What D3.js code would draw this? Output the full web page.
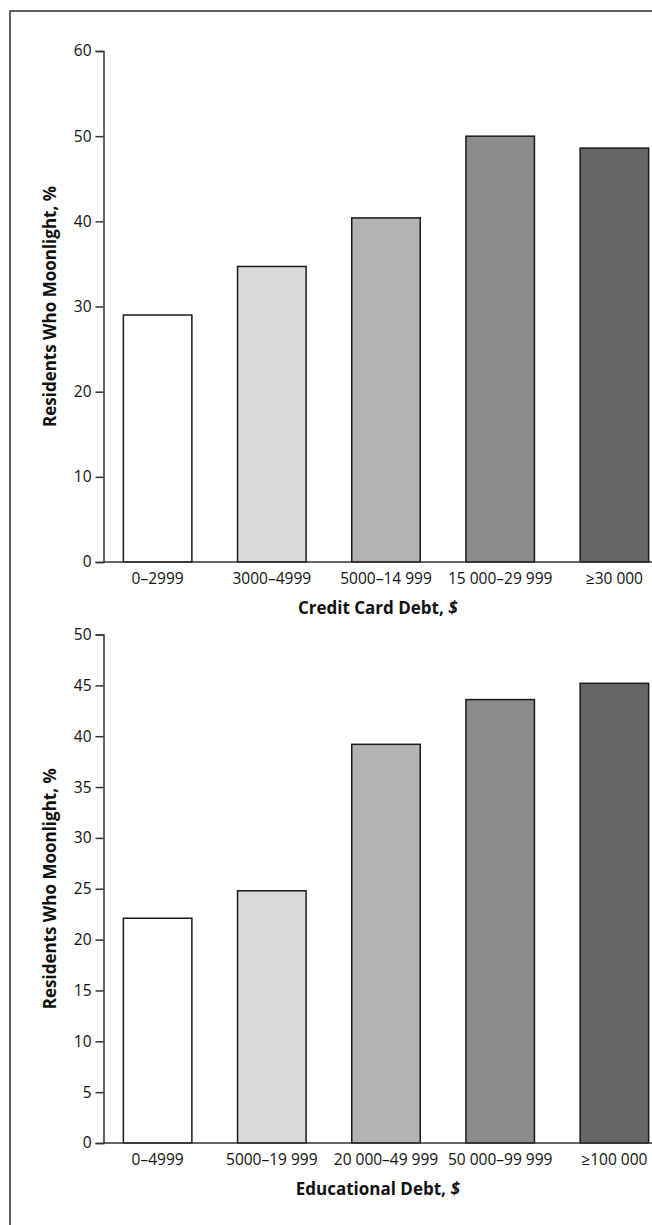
<!DOCTYPE html>
<html>
<head>
<meta charset="utf-8">
<script src="https://cdn.jsdelivr.net/npm/d3@7"></script>
<style>
  html, body { margin: 0; padding: 0; background: #fff; }
  svg { display: block; }
  text { font-family: "Open Sans", "DejaVu Sans", sans-serif; fill: #111; }
</style>
</head>
<body>
<script>
// ---- data ----
const creditCategories = ["0\u20132999", "3000\u20134999", "5000\u201314 999", "15 000\u201329 999", "\u226530 000"];
const creditValues = [29.0, 34.7, 40.4, 50.0, 48.6];
const creditTicks = [0, 10, 20, 30, 40, 50, 60];

const eduCategories = ["0\u20134999", "5000\u201319 999", "20 000\u201349 999", "50 000\u201399 999", "\u2265100 000"];
const eduValues = [22.1, 24.8, 39.2, 43.6, 45.2];
const eduTicks = [0, 5, 10, 15, 20, 25, 30, 35, 40, 45, 50];

const barFills = ["#ffffff", "#d9d9d9", "#b3b3b3", "#8c8c8c", "#666666"];
const yTitle = "Residents Who Moonlight, %";
const creditTitle = "Credit Card Debt, ";
const eduTitle = "Educational Debt, ";

const W = 652, H = 1225;
const svg = d3.select("body").append("svg").attr("width", W).attr("height", H);

// frame
svg.append("rect").attr("x", 10).attr("y", 11).attr("width", 700).attr("height", 1300)
  .attr("fill", "none").attr("stroke", "#333").attr("stroke-width", 1.5);

function panel(cfg) {
  const { cats, vals, ticks, yMax, yTop, yBottom, title } = cfg;
  const axisX = 103.5;
  const x = d3.scaleBand().domain(cats).range([axisX, axisX + 565])
    .paddingInner(0.4).paddingOuter(0.174);
  const y = d3.scaleLinear().domain([0, yMax]).range([yBottom, yTop]);
  const g = svg.append("g");

  // bars
  g.selectAll("rect.bar").data(vals).join("rect")
    .attr("class", "bar")
    .attr("x", (d, i) => x(cats[i]))
    .attr("width", x.bandwidth())
    .attr("y", d => y(d))
    .attr("height", d => y(0) - y(d))
    .attr("fill", (d, i) => barFills[i])
    .attr("stroke", "#1a1a1a").attr("stroke-width", 1.5);

  // y axis
  const ya = g.append("g").attr("transform", `translate(${axisX},0)`)
    .call(d3.axisLeft(y).tickValues(ticks).tickSize(8).tickSizeOuter(8).tickPadding(4).tickFormat(d3.format("d")));
  ya.selectAll("path, line").attr("stroke", "#333").attr("stroke-width", 1.5);
  ya.selectAll("text").style("font-size", "15.5px").attr("fill", "#111")
    .style("font-family", "'Open Sans', sans-serif");

  // x axis line
  g.append("line").attr("x1", axisX).attr("x2", W).attr("y1", y(0)).attr("y2", y(0))
    .attr("stroke", "#333").attr("stroke-width", 1.5);

  // category labels
  g.selectAll("text.cat").data(cats).join("text")
    .attr("class", "cat")
    .attr("x", d => x(d) + x.bandwidth() / 2)
    .attr("y", y(0) + 21.5)
    .attr("text-anchor", "middle")
    .style("font-size", "15.5px")
    .text(d => d);

  // x title
  const t = g.append("text")
    .attr("x", (axisX + W) / 2).attr("y", y(0) + 51.5)
    .attr("text-anchor", "middle")
    .style("font-size", "17px").style("font-weight", "bold");
  t.append("tspan").text(title);
  t.append("tspan").style("font-style", "italic").text("$");

  // y title
  g.append("text")
    .attr("transform", `translate(56,${(yTop + yBottom) / 2}) rotate(-90)`)
    .attr("text-anchor", "middle")
    .style("font-size", "17px").style("font-weight", "bold")
    .text(yTitle);
}

panel({ cats: creditCategories, vals: creditValues, ticks: creditTicks, yMax: 60,
        yTop: 51, yBottom: 562, title: creditTitle });
panel({ cats: eduCategories, vals: eduValues, ticks: eduTicks, yMax: 50,
        yTop: 634.5, yBottom: 1143, title: eduTitle });
</script>
</body>
</html>
